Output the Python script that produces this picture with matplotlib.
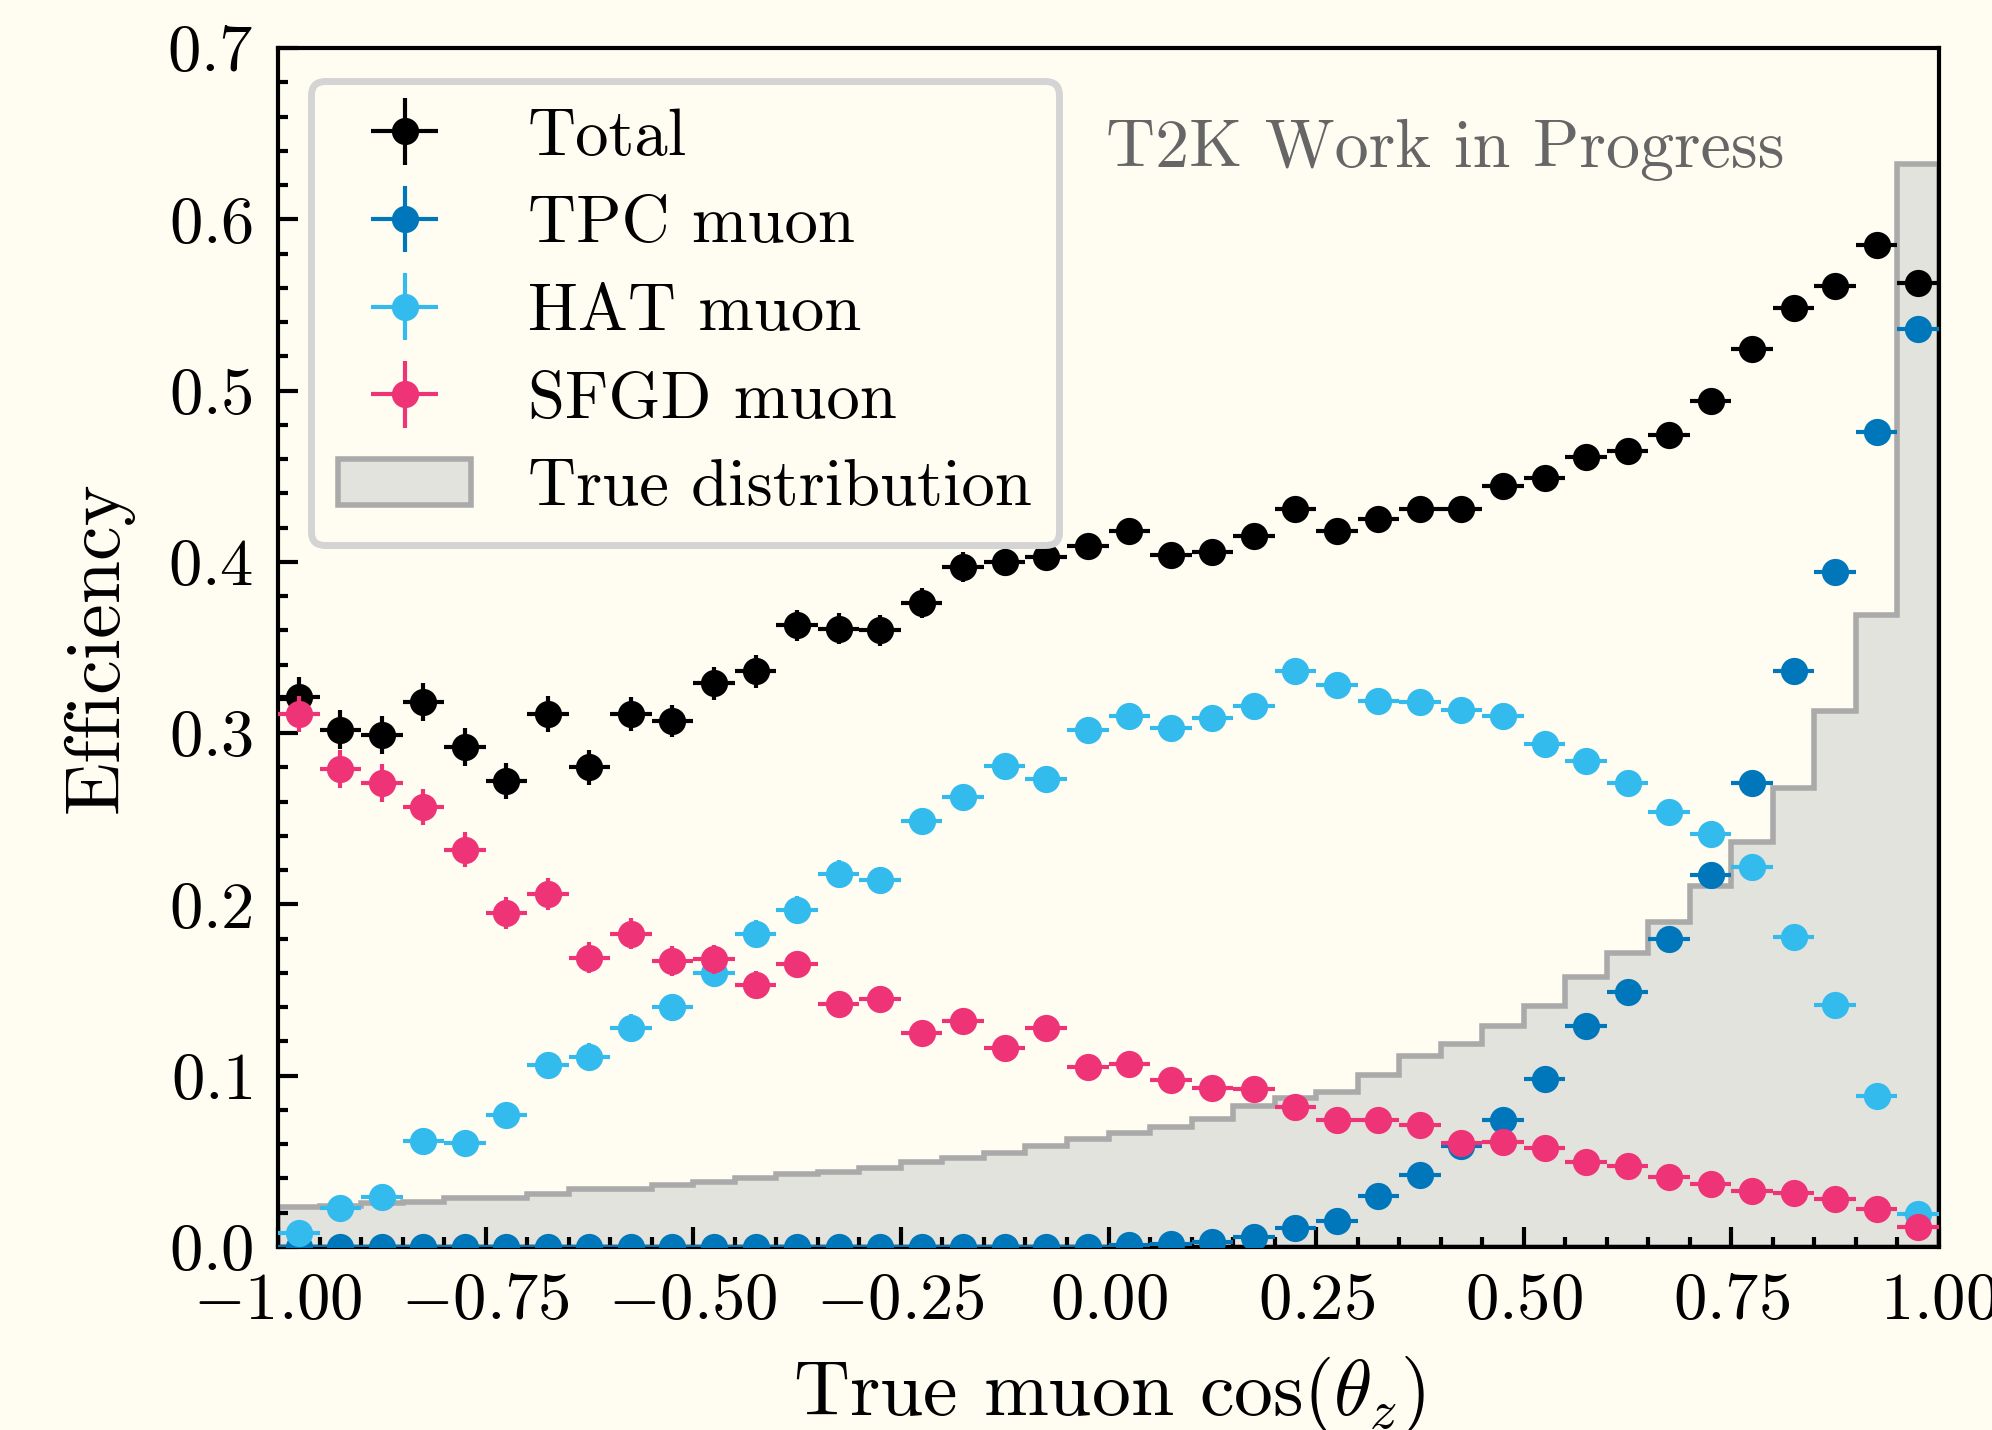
import numpy as np
import matplotlib
matplotlib.use("Agg")
import matplotlib.pyplot as plt
from matplotlib.ticker import MultipleLocator, FuncFormatter

# ---------------- data ----------------
bin_edges = np.linspace(-1.0, 1.0, 41)

eff_total = [0.321, 0.302, 0.299, 0.318, 0.292, 0.272, 0.311, 0.280, 0.311, 0.307,
             0.329, 0.336, 0.363, 0.361, 0.360, 0.376, 0.397, 0.400, 0.403, 0.409,
             0.418, 0.404, 0.406, 0.415, 0.431, 0.418, 0.425, 0.431, 0.431, 0.444,
             0.449, 0.461, 0.465, 0.474, 0.494, 0.524, 0.548, 0.561, 0.585, 0.563]
err_total = [0.012, 0.0115, 0.011, 0.011, 0.011, 0.0105, 0.0105, 0.010, 0.010, 0.0095,
             0.0095, 0.0095, 0.009, 0.009, 0.009, 0.0085, 0.0085, 0.008, 0.008, 0.0075,
             0.0075, 0.007, 0.007, 0.0065, 0.0065, 0.006, 0.006, 0.0055, 0.0055, 0.005,
             0.005, 0.0045, 0.0045, 0.004, 0.004, 0.0035, 0.0035, 0.003, 0.003, 0.002]

eff_tpc = [0.0, 0.0, 0.0, 0.0, 0.0, 0.0, 0.0, 0.0, 0.0, 0.0,
           0.0, 0.0, 0.0, 0.0, 0.0, 0.0, 0.0, 0.0, 0.0, 0.0,
           0.001, 0.002, 0.003, 0.006, 0.011, 0.015, 0.030, 0.042, 0.059, 0.074,
           0.098, 0.129, 0.149, 0.180, 0.217, 0.271, 0.336, 0.394, 0.476, 0.536]
err_tpc = [0.0, 0.0, 0.0, 0.0, 0.0, 0.0, 0.0, 0.0, 0.0, 0.0,
           0.0, 0.0, 0.0, 0.0, 0.0, 0.0, 0.0, 0.0, 0.0, 0.0,
           0.001, 0.001, 0.0015, 0.002, 0.0025, 0.003, 0.004, 0.004, 0.0045, 0.0045,
           0.005, 0.005, 0.005, 0.005, 0.005, 0.005, 0.0045, 0.004, 0.0035, 0.002]

eff_hat = [0.008, 0.023, 0.029, 0.062, 0.061, 0.077, 0.106, 0.111, 0.128, 0.140,
           0.160, 0.183, 0.197, 0.218, 0.214, 0.249, 0.263, 0.281, 0.273, 0.302,
           0.310, 0.303, 0.309, 0.316, 0.336, 0.328, 0.319, 0.318, 0.3135, 0.310,
           0.2935, 0.2835, 0.271, 0.254, 0.241, 0.222, 0.181, 0.141, 0.088, 0.0195]
err_hat = [0.003, 0.005, 0.006, 0.007, 0.007, 0.007, 0.008, 0.008, 0.008, 0.008,
           0.008, 0.008, 0.008, 0.008, 0.007, 0.007, 0.007, 0.007, 0.007, 0.007,
           0.006, 0.006, 0.006, 0.006, 0.006, 0.005, 0.005, 0.005, 0.005, 0.005,
           0.004, 0.004, 0.004, 0.004, 0.003, 0.003, 0.003, 0.002, 0.002, 0.001]

eff_sfgd = [0.311, 0.279, 0.271, 0.257, 0.232, 0.195, 0.206, 0.169, 0.183, 0.167,
            0.168, 0.153, 0.165, 0.142, 0.145, 0.125, 0.132, 0.116, 0.128, 0.105,
            0.107, 0.0975, 0.093, 0.092, 0.082, 0.074, 0.074, 0.071, 0.061, 0.0615,
            0.058, 0.0497, 0.0473, 0.041, 0.0368, 0.0328, 0.0318, 0.028, 0.0224, 0.0117]
err_sfgd = [0.0105, 0.011, 0.011, 0.0105, 0.010, 0.0095, 0.0095, 0.009, 0.009, 0.0085,
            0.0085, 0.008, 0.008, 0.0075, 0.0075, 0.007, 0.007, 0.0065, 0.0065, 0.006,
            0.006, 0.0055, 0.005, 0.005, 0.0045, 0.004, 0.004, 0.0035, 0.003, 0.003,
            0.003, 0.0025, 0.0025, 0.002, 0.002, 0.0018, 0.0016, 0.0014, 0.0012, 0.001]

true_dist = [0.0235, 0.024, 0.0255, 0.0265, 0.0288, 0.0288, 0.0309, 0.0337, 0.0337, 0.0362,
             0.0381, 0.0405, 0.0424, 0.0437, 0.0459, 0.0498, 0.0518, 0.0551, 0.0592, 0.0631,
             0.0664, 0.0699, 0.0747, 0.0823, 0.0868, 0.0907, 0.1007, 0.1114, 0.1187, 0.129,
             0.1405, 0.1576, 0.1717, 0.1897, 0.2105, 0.2365, 0.268, 0.3127, 0.369, 0.632]

series_labels = ["Total", "TPC muon", "HAT muon", "SFGD muon"]
hist_label = "True distribution"
x_ticks = [-1.0, -0.75, -0.5, -0.25, 0.0, 0.25, 0.5, 0.75, 1.0]
y_ticks = [0.0, 0.1, 0.2, 0.3, 0.4, 0.5, 0.6, 0.7]

# ---------------- style ----------------
plt.rcParams.update({
    "font.family": "serif",
    "font.serif": ["cmr10"],
    "mathtext.fontset": "cm",
    "axes.formatter.use_mathtext": True,
    "axes.unicode_minus": True,
})

bg = "#fffdf2"
colors = ["#000000", "#0077BB", "#33BBEE", "#EE3377"]

fig = plt.figure(figsize=(9.96, 7.15), dpi=200, facecolor=bg)
ax = fig.add_axes([0.13956, 0.12797, 0.83384, 0.83846])
ax.set_facecolor(bg)

centers = 0.5 * (bin_edges[:-1] + bin_edges[1:])
half_w = 0.5 * np.diff(bin_edges)

hist_h = ax.hist(centers, bins=bin_edges, weights=true_dist, histtype="stepfilled",
                 facecolor="#e3e3dd", edgecolor="#aaaaaa", linewidth=2.0,
                 label=hist_label, zorder=1)[2][0]

handles = []
for vals, errs, c, lab, z in zip([eff_total, eff_tpc, eff_hat, eff_sfgd],
                                 [err_total, err_tpc, err_hat, err_sfgd],
                                 colors, series_labels, [3, 4, 5, 6]):
    h = ax.errorbar(centers, vals, xerr=half_w, yerr=errs, fmt="o", color=c,
                    ms=9.8, mew=0, elinewidth=1.5, capsize=0, label=lab, zorder=z)
    handles.append(h)
handles.append(hist_h)

ax.set_xlim(-1, 1)
ax.set_ylim(0, 0.7)
ax.set_xticks(x_ticks)
ax.set_yticks(y_ticks)
ax.xaxis.set_minor_locator(MultipleLocator(0.05))
ax.yaxis.set_minor_locator(MultipleLocator(0.02))
ax.xaxis.set_major_formatter(FuncFormatter(lambda v, p: f"${v:.2f}$"))
ax.yaxis.set_major_formatter(FuncFormatter(lambda v, p: f"${v:.1f}$"))
ax.tick_params(which="both", direction="in", top=False, right=False, width=1.5,
               labelsize=24)
ax.tick_params(which="major", length=7.2)
ax.tick_params(which="minor", length=3.6)
ax.tick_params(axis="x", pad=9)
ax.tick_params(axis="y", pad=9)
for s in ax.spines.values():
    s.set_linewidth(1.5)

ax.set_xlabel(r"True muon $\cos(\theta_z)$", fontsize=28, labelpad=8)
ax.set_ylabel("Efficiency", fontsize=28, labelpad=12)

ax.text(0.9073, 0.9008, "T2K Work in Progress", transform=ax.transAxes,
        ha="right", va="baseline", fontsize=24.5, color="#666666")

leg = ax.legend(handles=handles, labels=series_labels + [hist_label],
                loc="upper left", fontsize=24, fancybox=True, framealpha=1.0,
                facecolor=bg, edgecolor="#d4d4d4", labelspacing=0.42,
                borderaxespad=0.5, handletextpad=0.85)
leg.get_frame().set_linewidth(2.5)

fig.savefig("out.png", dpi=200, facecolor=bg)
